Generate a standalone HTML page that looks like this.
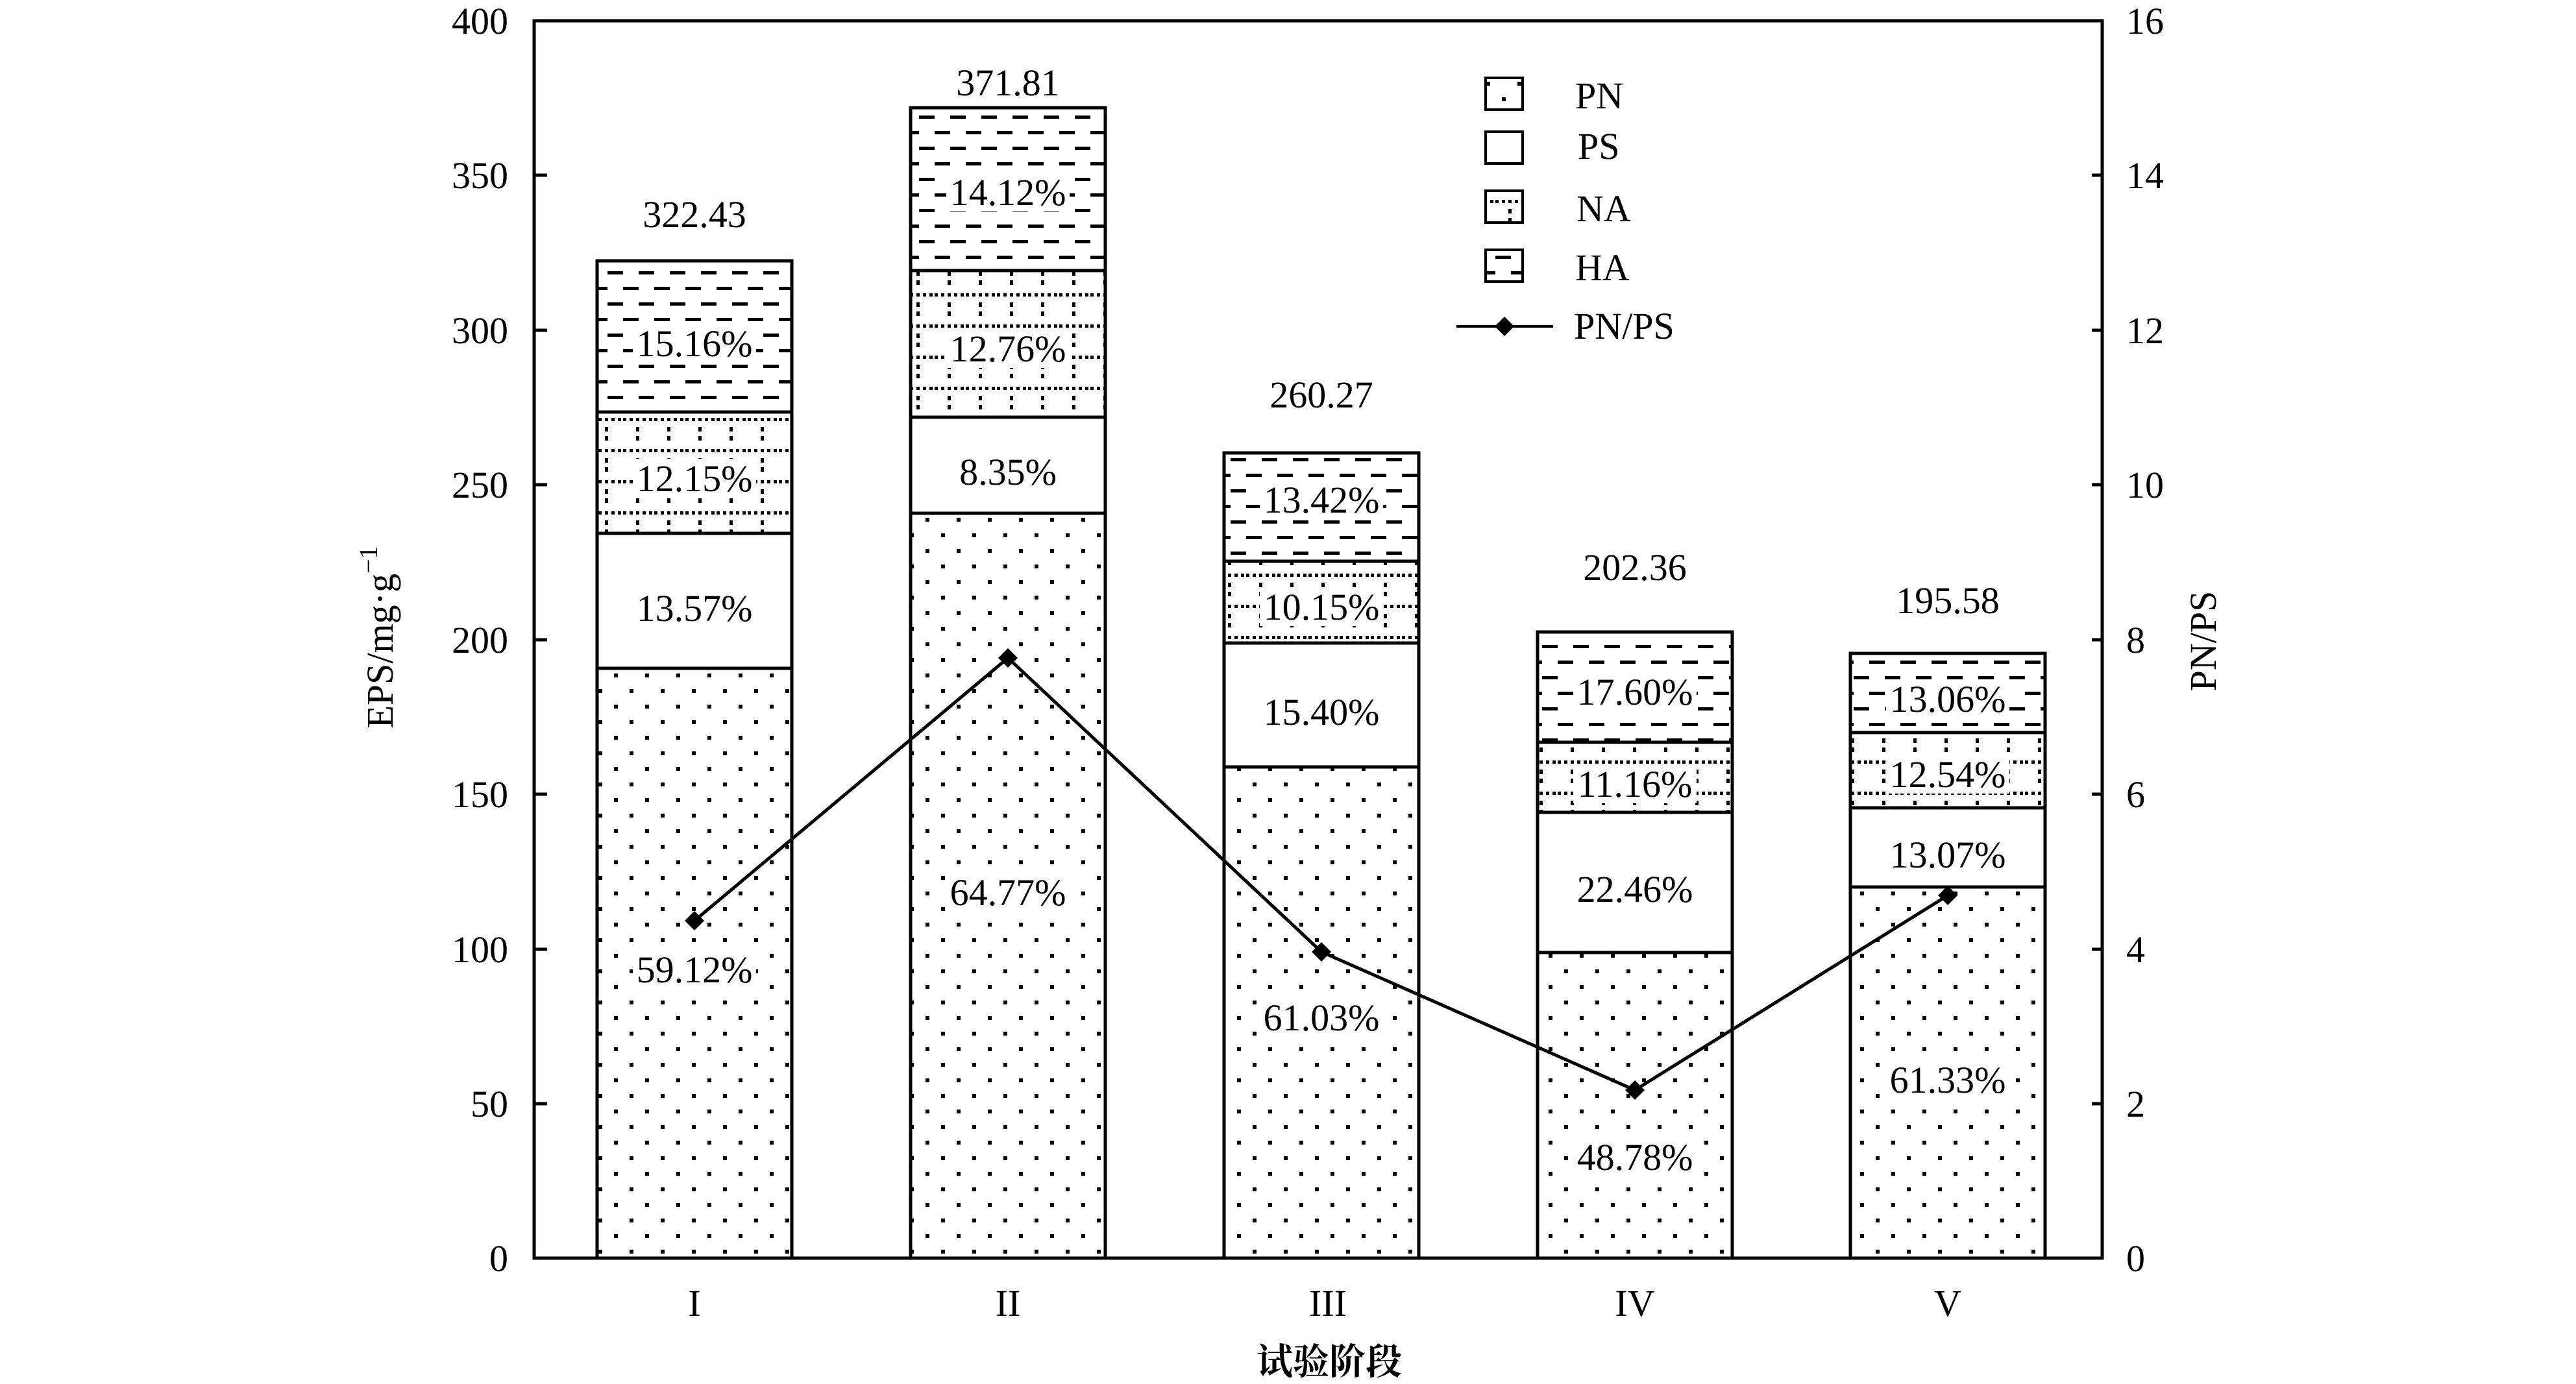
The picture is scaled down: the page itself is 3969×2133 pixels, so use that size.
<!DOCTYPE html>
<html><head><meta charset="utf-8"><style>html,body{margin:0;padding:0;background:#fff}svg{display:block}</style></head>
<body>
<svg width="3969" height="2133" viewBox="0 0 3969 2133" xmlns="http://www.w3.org/2000/svg" font-family="'Liberation Serif', serif" font-size="58">
<defs>
<pattern id="pn" patternUnits="userSpaceOnUse" width="48" height="48" x="0" y="0">
<rect x="10" y="6" width="6" height="6" fill="#000"/><rect x="34" y="30" width="6" height="6" fill="#000"/>
</pattern>
<pattern id="na" patternUnits="userSpaceOnUse" width="48" height="48">
<g fill="#000">
<rect x="0" y="20" width="5" height="5"/><rect x="10" y="20" width="5" height="5"/><rect x="20" y="20" width="5" height="5"/><rect x="30" y="20" width="5" height="5"/><rect x="40" y="20" width="5" height="5"/>
<rect x="20" y="0" width="5" height="7"/><rect x="20" y="34" width="5" height="7"/>
</g>
</pattern>
<pattern id="ha" patternUnits="userSpaceOnUse" width="48" height="48">
<rect x="0" y="10" width="24" height="5" fill="#000"/><rect x="24" y="34" width="24" height="5" fill="#000"/>
</pattern>
</defs>

<g stroke="#000" stroke-width="5">
<rect x="920" y="1030" width="300" height="909" fill="url(#pn)"/>
<rect x="920" y="822" width="300" height="208" fill="#fff"/>
<rect x="920" y="635" width="300" height="187" fill="url(#na)"/>
<rect x="920" y="402" width="300" height="233" fill="url(#ha)"/>
<rect x="1403" y="791" width="300" height="1148" fill="url(#pn)"/>
<rect x="1403" y="643" width="300" height="148" fill="#fff"/>
<rect x="1403" y="417" width="300" height="226" fill="url(#na)"/>
<rect x="1403" y="166" width="300" height="251" fill="url(#ha)"/>
<rect x="1886" y="1182" width="300" height="757" fill="url(#pn)"/>
<rect x="1886" y="991" width="300" height="191" fill="#fff"/>
<rect x="1886" y="865" width="300" height="126" fill="url(#na)"/>
<rect x="1886" y="698" width="300" height="167" fill="url(#ha)"/>
<rect x="2369" y="1468" width="300" height="471" fill="url(#pn)"/>
<rect x="2369" y="1252" width="300" height="216" fill="#fff"/>
<rect x="2369" y="1144" width="300" height="108" fill="url(#na)"/>
<rect x="2369" y="974" width="300" height="170" fill="url(#ha)"/>
<rect x="2851" y="1367" width="300" height="572" fill="url(#pn)"/>
<rect x="2851" y="1245" width="300" height="122" fill="#fff"/>
<rect x="2851" y="1129" width="300" height="116" fill="url(#na)"/>
<rect x="2851" y="1007" width="300" height="122" fill="url(#ha)"/>
</g>

<g text-anchor="middle">
<g fill="#fff">
<rect x="975" y="1464" width="190" height="60"/><rect x="975" y="499" width="190" height="60"/><rect x="975" y="707" width="190" height="60"/>
<rect x="1458" y="1345" width="190" height="60"/><rect x="1458" y="507" width="190" height="60"/><rect x="1458" y="266" width="190" height="60"/>
<rect x="1941" y="1538" width="190" height="60"/><rect x="1941" y="905" width="190" height="60"/><rect x="1941" y="740" width="190" height="60"/>
<rect x="2424" y="1753" width="190" height="60"/><rect x="2424" y="1178" width="190" height="60"/><rect x="2424" y="1036" width="190" height="60"/>
<rect x="2906" y="1634" width="190" height="60"/><rect x="2906" y="1163" width="190" height="60"/><rect x="2906" y="1047" width="190" height="60"/>
</g>
<text x="1070" y="1514">59.12%</text><text x="1070" y="957">13.57%</text><text x="1070" y="757">12.15%</text><text x="1070" y="549">15.16%</text>
<text x="1553" y="1395">64.77%</text><text x="1553" y="747">8.35%</text><text x="1553" y="557">12.76%</text><text x="1553" y="316">14.12%</text>
<text x="2036" y="1588">61.03%</text><text x="2036" y="1117">15.40%</text><text x="2036" y="955">10.15%</text><text x="2036" y="790">13.42%</text>
<text x="2519" y="1803">48.78%</text><text x="2519" y="1390">22.46%</text><text x="2519" y="1228">11.16%</text><text x="2519" y="1086">17.60%</text>
<text x="3001" y="1684">61.33%</text><text x="3001" y="1337">13.07%</text><text x="3001" y="1213">12.54%</text><text x="3001" y="1097">13.06%</text>
<text x="1070" y="350">322.43</text><text x="1553" y="147">371.81</text><text x="2036" y="628">260.27</text><text x="2519" y="894">202.36</text><text x="3001" y="945">195.58</text>
</g>

<polyline points="1070,1419 1553,1014 2036,1467 2519,1680 3001,1380" fill="none" stroke="#000" stroke-width="5"/>
<g fill="#000">
<polygon points="1070,1404 1085,1419 1070,1434 1055,1419"/>
<polygon points="1553,999 1568,1014 1553,1029 1538,1014"/>
<polygon points="2036,1452 2051,1467 2036,1482 2021,1467"/>
<polygon points="2519,1665 2534,1680 2519,1695 2504,1680"/>
<polygon points="3001,1365 3016,1380 3001,1395 2986,1380"/>
</g>

<rect x="823" y="32" width="2416" height="1907" fill="none" stroke="#000" stroke-width="5"/>
<g stroke="#000" stroke-width="5">
<line x1="823" y1="1701" x2="843" y2="1701"/><line x1="823" y1="1463" x2="843" y2="1463"/><line x1="823" y1="1224" x2="843" y2="1224"/><line x1="823" y1="986" x2="843" y2="986"/><line x1="823" y1="747" x2="843" y2="747"/><line x1="823" y1="509" x2="843" y2="509"/><line x1="823" y1="270" x2="843" y2="270"/>
<line x1="3239" y1="1701" x2="3223" y2="1701"/><line x1="3239" y1="1463" x2="3223" y2="1463"/><line x1="3239" y1="1224" x2="3223" y2="1224"/><line x1="3239" y1="986" x2="3223" y2="986"/><line x1="3239" y1="747" x2="3223" y2="747"/><line x1="3239" y1="509" x2="3223" y2="509"/><line x1="3239" y1="270" x2="3223" y2="270"/>
</g>
<g text-anchor="end">
<text x="783" y="1959">0</text><text x="783" y="1721">50</text><text x="783" y="1483">100</text><text x="783" y="1244">150</text><text x="783" y="1006">200</text><text x="783" y="767">250</text><text x="783" y="529">300</text><text x="783" y="290">350</text><text x="783" y="52">400</text>
</g>
<g>
<text x="3276" y="1959">0</text><text x="3276" y="1721">2</text><text x="3276" y="1483">4</text><text x="3276" y="1244">6</text><text x="3276" y="1006">8</text><text x="3276" y="767">10</text><text x="3276" y="529">12</text><text x="3276" y="290">14</text><text x="3276" y="52">16</text>
</g>
<g text-anchor="middle">
<text x="1070" y="2028">I</text><text x="1553" y="2028">II</text><text x="2046" y="2028">III</text><text x="2519" y="2028">IV</text><text x="3001" y="2028">V</text>
<text x="2048" y="2118" font-family="'Liberation Serif','Noto Serif CJK SC','Noto Sans CJK SC',serif" font-weight="bold" font-size="56">试验阶段</text>
<text transform="translate(605,982) rotate(-90)">EPS/mg·g<tspan dy="-24" font-size="40">−1</tspan></text>
<text transform="translate(3414,988) rotate(-90)">PN/PS</text>
</g>

<g stroke="#000" stroke-width="4">
<rect x="2289" y="120" width="57" height="49" fill="url(#pn)"/>
<rect x="2289" y="203" width="57" height="49" fill="#fff"/>
<rect x="2289" y="294" width="57" height="49" fill="url(#na)"/>
<rect x="2289" y="385" width="57" height="49" fill="url(#ha)"/>
<line x1="2244" y1="503" x2="2393" y2="503"/>
</g>
<polygon points="2318,488 2333,503 2318,518 2303,503" fill="#000"/>
<text x="2427" y="167">PN</text><text x="2431" y="245">PS</text><text x="2429" y="341">NA</text><text x="2427" y="432">HA</text><text x="2425" y="522">PN/PS</text>
</svg>
</body></html>
